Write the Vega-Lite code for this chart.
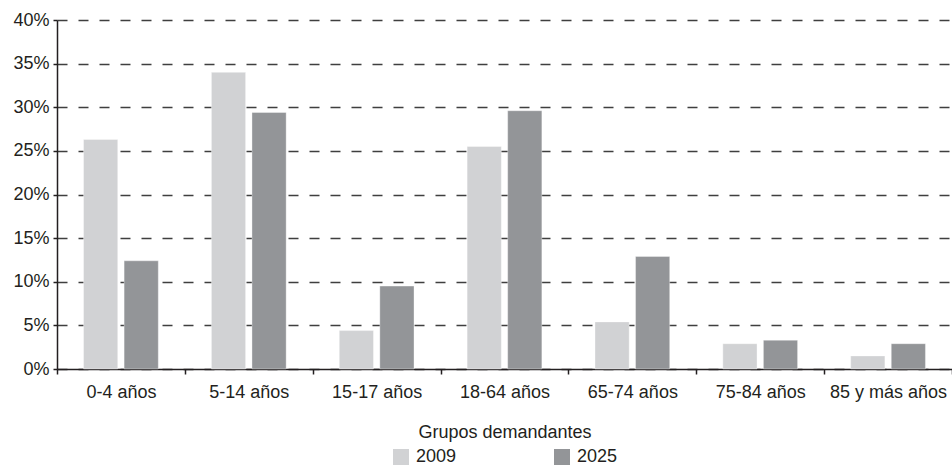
{
  "$schema": "https://vega.github.io/schema/vega-lite/v6.json",
  "autosize": "none",
  "width": 895,
  "height": 349,
  "padding": {"left": 57, "top": 20, "right": 0, "bottom": 97},
  "background": "white",
  "data": {
    "values": [
      {"grupo": "0-4 años", "anio": "2009", "pct": 26.3},
      {"grupo": "0-4 años", "anio": "2025", "pct": 12.4},
      {"grupo": "5-14 años", "anio": "2009", "pct": 34.0},
      {"grupo": "5-14 años", "anio": "2025", "pct": 29.4},
      {"grupo": "15-17 años", "anio": "2009", "pct": 4.4},
      {"grupo": "15-17 años", "anio": "2025", "pct": 9.5},
      {"grupo": "18-64 años", "anio": "2009", "pct": 25.5},
      {"grupo": "18-64 años", "anio": "2025", "pct": 29.6},
      {"grupo": "65-74 años", "anio": "2009", "pct": 5.4},
      {"grupo": "65-74 años", "anio": "2025", "pct": 12.9},
      {"grupo": "75-84 años", "anio": "2009", "pct": 2.9},
      {"grupo": "75-84 años", "anio": "2025", "pct": 3.3},
      {"grupo": "85 y más años", "anio": "2009", "pct": 1.5},
      {"grupo": "85 y más años", "anio": "2025", "pct": 2.9}
    ]
  },
  "mark": {"type": "bar", "stroke": "white", "strokeOpacity": 0.35, "strokeWidth": 1},
  "encoding": {
    "x": {
      "field": "grupo",
      "type": "nominal",
      "sort": null,
      "scale": {"paddingInner": 0, "paddingOuter": 0},
      "axis": {
        "title": "Grupos demandantes",
        "labelAngle": 0,
        "tickBand": "extent",
        "tickSize": 5,
        "labelPadding": 9,
        "titlePadding": 22
      }
    },
    "xOffset": {
      "field": "anio",
      "type": "nominal",
      "scale": {"paddingInner": 0.157, "paddingOuter": 0.655}
    },
    "y": {
      "field": "pct",
      "type": "quantitative",
      "scale": {"domain": [0, 40], "nice": false},
      "axis": {
        "title": null,
        "values": [0, 5, 10, 15, 20, 25, 30, 35, 40],
        "labelExpr": "datum.value + '%'",
        "tickSize": 4,
        "labelPadding": 4,
        "grid": true,
        "gridDash": [10, 11],
        "gridColor": "#3f3f3f",
        "gridWidth": 1.6
      }
    },
    "color": {
      "field": "anio",
      "type": "nominal",
      "scale": {"domain": ["2009", "2025"], "range": ["#d1d2d4", "#939598"]},
      "legend": {
        "title": null,
        "orient": "bottom",
        "direction": "horizontal",
        "symbolType": "square",
        "symbolSize": 256,
        "symbolStrokeWidth": 0,
        "labelOffset": 6,
        "columnPadding": 96,
        "offset": 7
      }
    }
  },
  "config": {
    "font": "Liberation Sans",
    "view": {"stroke": null},
    "axis": {
      "labelFont": "Liberation Sans",
      "titleFont": "Liberation Sans",
      "labelFontSize": 18,
      "titleFontSize": 18,
      "titleFontWeight": "normal",
      "labelColor": "#231f20",
      "titleColor": "#231f20",
      "domainColor": "#231f20",
      "domainWidth": 1.5,
      "tickColor": "#231f20",
      "tickWidth": 1.5
    },
    "legend": {
      "labelFont": "Liberation Sans",
      "labelFontSize": 18,
      "labelColor": "#231f20",
      "layout": {"bottom": {"anchor": "middle"}}
    }
  }
}
